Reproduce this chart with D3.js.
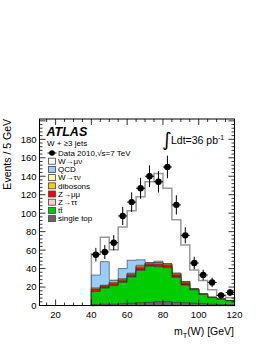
<!DOCTYPE html>
<html><head><meta charset="utf-8">
<script src="https://cdn.jsdelivr.net/npm/d3@7"></script>
<style>body{margin:0;background:#fff}svg{display:block;font-family:"Liberation Sans",Arial,Helvetica,sans-serif}</style>
</head><body><svg id="c" width="266" height="344"></svg>
<script>
// ---- data ----
const binLow = [40,45,50,55,60,65,70,75,80,85,90,95,100,105,110,115];
const binWidth = 5;
const dataCounts = [55,58,68,97,112,127,140,134,150,109,76,46,33,25,11,14];
const singleTop = [1,1.5,1.5,2,2.5,3,3.5,4,4,3.5,3,2.5,2,1.5,1,1];
const ttbar     = [14,17.5,20,23,28.5,35,39,38,37,27,19,14.5,10,7,5.7,4.2];
const Ztautau   = [0.3,0.3,0.4,0.4,0.4,0.5,0.4,0.4,0.4,0.4,0.3,0.2,0.1,0.1,0.05,0.05];
const Zmumu     = [2,1.5,2,1.8,2,2.5,1.8,2.3,2,2.5,2.3,0.5,0.2,0.2,0.1,0.1];
const dibosons  = [1,0.8,1,1,1,1.5,1,1.3,1.2,1.2,1,0.2,0.1,0.1,0.1,0.1];
const Wtaunu    = [0.7,0.4,1.6,0.8,0.6,1,0.3,0.5,0.4,0.4,0.4,0.1,0.1,0.1,0.05,0.05];
const QCD       = [14,25.5,1,11,14,6,0.5,1.5,0.3,0,0,0,0,0,0,0];
const Wmunu     = [23,26.5,33,45,53.5,68.4,87.5,95,81.7,58,39.5,20.5,14.5,8,4,3];
const xTicks = [20,40,60,80,100,120];
const yTicks = [0,20,40,60,80,100,120,140,160,180];
const xDomain = [11,120];
const yDomain = [0,202];

const components = [
  {name:"single top", vals:singleTop, fill:"#666666", stroke:"#333"},
  {name:"tt\u0304", vals:ttbar, fill:"#00cc00", stroke:"#222"},
  {name:"Z\u2192\u03c4\u03c4", vals:Ztautau, fill:"#ffcccc", stroke:"#222"},
  {name:"Z\u2192\u03bc\u03bc", vals:Zmumu, fill:"#ff0000", stroke:"#222"},
  {name:"dibosons", vals:dibosons, fill:"#ffcc00", stroke:"#222"},
  {name:"W\u2192\u03c4\u03bd", vals:Wtaunu, fill:"#ffff99", stroke:"#222"},
  {name:"QCD", vals:QCD, fill:"#99ccff", stroke:"#333"},
  {name:"W\u2192\u03bc\u03bd", vals:Wmunu, fill:"#ffffff", stroke:"#999999"}
];

const svg = d3.select("#c");
const L=39.5, R=234.5, T=119, B=305.5;
const x = d3.scaleLinear().domain(xDomain).range([L,R]);
const y = d3.scaleLinear().domain(yDomain).range([B,T]);

// cumulative stack
let cum = binLow.map(()=>0);
const cums = components.map(c=>{ cum = cum.map((v,i)=>v+c.vals[i]); return cum.slice(); });

const area = d3.area().curve(d3.curveStepAfter)
  .x(d=>x(d.x)).y0(y(0)).y1(d=>y(d.v));
for (let k=components.length-1;k>=0;k--){
  const c = components[k];
  const pts = binLow.map((b,i)=>({x:b, v:cums[k][i]}));
  pts.push({x:binLow[binLow.length-1]+binWidth, v:cums[k][binLow.length-1]});
  svg.append("path").attr("d", area(pts)).attr("fill", c.fill)
    .attr("stroke", c.stroke).attr("stroke-width", k===components.length-1?1.5:0.6);
}

// data points
const g = svg.append("g");
binLow.forEach((b,i)=>{
  const n = dataCounts[i], e = Math.sqrt(n), cx = x(b+binWidth/2);
  g.append("line").attr("x1",cx).attr("x2",cx).attr("y1",y(n-e)).attr("y2",y(n+e)).attr("stroke","#000").attr("stroke-width",1);
  g.append("line").attr("x1",x(b)).attr("x2",x(b+binWidth)).attr("y1",y(n)).attr("y2",y(n)).attr("stroke","#000").attr("stroke-width",1);
  g.append("circle").attr("cx",cx).attr("cy",y(n)).attr("r",3.2).attr("fill","#000");
});

// frame + ticks
svg.append("rect").attr("x",L).attr("y",T).attr("width",R-L).attr("height",B-T)
  .attr("fill","none").attr("stroke","#000").attr("stroke-width",1);
const tk = svg.append("g").attr("stroke","#000").attr("stroke-width",0.8);
for (let v=15; v<=120; v+=5){
  const major = v%20===0, len = major?6:3, xx=x(v);
  tk.append("line").attr("x1",xx).attr("x2",xx).attr("y1",B).attr("y2",B-len);
  tk.append("line").attr("x1",xx).attr("x2",xx).attr("y1",T).attr("y2",T+len);
}
for (let v=0; v<=200; v+=4){
  const major = v%20===0, len = major?6:3, yy=y(v);
  tk.append("line").attr("x1",L).attr("x2",L+len).attr("y1",yy).attr("y2",yy);
  tk.append("line").attr("x1",R).attr("x2",R-len).attr("y1",yy).attr("y2",yy);
}
// tick labels
svg.append("g").selectAll("text").data(xTicks).join("text")
  .attr("x",d=>x(d)).attr("y",317.5).attr("text-anchor","middle")
  .attr("font-size","9.5px").text(d=>d);
svg.append("g").selectAll("text").data(yTicks).join("text")
  .attr("x",36.5).attr("y",d=>y(d)+3.4).attr("text-anchor","end")
  .attr("font-size","9.5px").text(d=>d);

// axis titles
const xt = svg.append("text").attr("x",234).attr("y",335).attr("text-anchor","end").attr("font-size","10.5px");
xt.append("tspan").text("m");
xt.append("tspan").attr("font-size","7.5px").attr("dy",2.5).text("T");
xt.append("tspan").attr("dy",-2.5).text("(W) [GeV]");
svg.append("text").attr("transform","translate(11,119) rotate(-90)").attr("text-anchor","end")
  .attr("font-size","10.5px").text("Events / 5 GeV");

// ATLAS + labels
svg.append("text").attr("x",46.5).attr("y",136).attr("font-size","12.5px").attr("font-weight","bold")
  .attr("font-style","italic").text("ATLAS");
svg.append("text").attr("x",47).attr("y",146).attr("font-size","8px").text("W + \u22653 jets");

// lumi
svg.append("text").attr("x",162).attr("y",146).attr("font-size","19px").attr("font-family","DejaVu Sans").text("\u222b");
const lt = svg.append("text").attr("x",171).attr("y",143.5).attr("font-size","10.5px");
lt.append("tspan").text("Ldt=36 pb");
lt.append("tspan").attr("font-size","7px").attr("dy",-4).text("-1");

// legend
const leg = svg.append("g").attr("font-size","8px");
const rowY0 = 153, dy = 8.2;
leg.append("line").attr("x1",47.5).attr("x2",56.5).attr("y1",rowY0).attr("y2",rowY0).attr("stroke","#000").attr("stroke-width",1);
leg.append("circle").attr("cx",52).attr("cy",rowY0).attr("r",2.8).attr("fill","#000");
leg.append("text").attr("x",58).attr("y",rowY0+2.8).text("Data 2010,\u221as=7 TeV");
const legOrder = components.slice().reverse();
legOrder.forEach((c,i)=>{
  const yy = rowY0 + dy*(i+1);
  leg.append("rect").attr("x",48.5).attr("y",yy-3).attr("width",7).attr("height",6)
    .attr("fill",c.fill).attr("stroke","#444").attr("stroke-width",0.8);
  leg.append("text").attr("x",58).attr("y",yy+2.8).text(c.name);
});
</script></body></html>
